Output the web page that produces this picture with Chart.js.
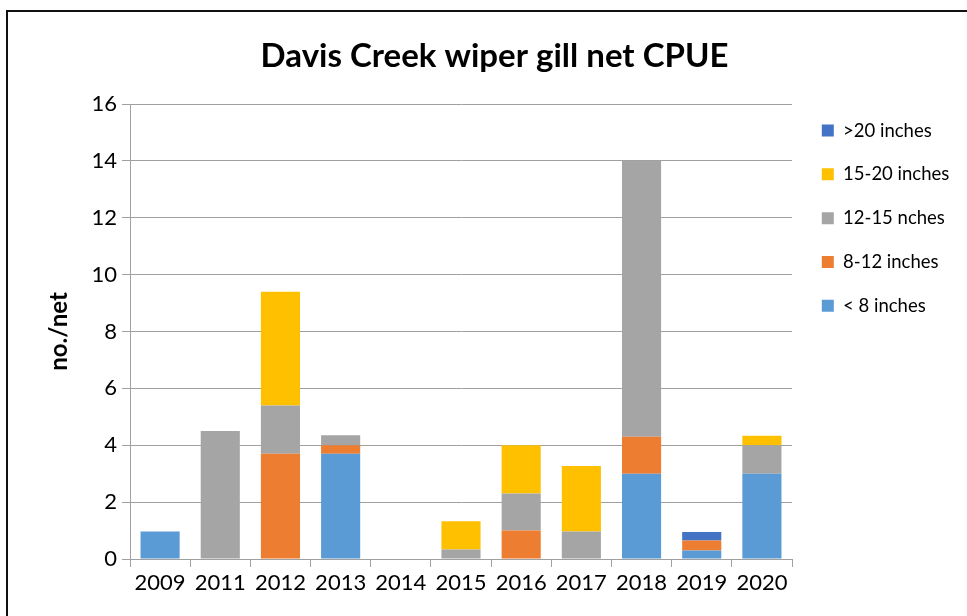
<!DOCTYPE html>
<html>
<head>
<meta charset="utf-8">
<title>Davis Creek wiper gill net CPUE</title>
<script src="https://cdn.jsdelivr.net/npm/chart.js@4/dist/chart.umd.min.js"></script>
<style>
  html, body { margin: 0; padding: 0; background: #fff; overflow: hidden; }
  #frame {
    position: absolute; left: 6px; top: 10px;
    width: 1000px; height: 700px;
    border: 2px solid #111;
  }
  #wrap { position: absolute; left: 0; top: 0; width: 967px; height: 616px; }
</style>
</head>
<body>
<div id="frame"></div>
<div id="wrap"><canvas id="cpueChart" width="967" height="616"></canvas></div>
<script>
// Survey years
const years = ['2009', '2011', '2012', '2013', '2014', '2015', '2016', '2017', '2018', '2019', '2020'];

// Catch per net by length group (stacked from the bottom up)
const under8 = [0.97, 0, 0, 3.7, 0, 0, 0, 0, 3.0, 0.3, 3.0];
const from8to12 = [0, 0, 3.7, 0.3, 0, 0, 1.0, 0, 1.3, 0.35, 0];
const from12to15 = [0, 4.5, 1.7, 0.35, 0, 0.33, 1.3, 0.97, 9.7, 0, 1.0];
const from15to20 = [0, 0, 4.0, 0, 0, 1.0, 1.7, 2.3, 0, 0, 0.33];
const over20 = [0, 0, 0, 0, 0, 0, 0, 0, 0, 0.3, 0];

const gridGray = '#a0a0a0';

// Keep the legend column where it belongs next to the plot
const legendPlacer = {
    id: 'legendPlacer',
    beforeInit(chart) {
        const fit = chart.legend.fit;
        chart.legend.fit = function () {
            fit.call(this);
            this.width = 175;
        };
    },
    afterLayout(chart) {
        chart.legend.left = 796.5;
        chart.legend.top = 96;
    }
};

function makeSet(label, data, color) {
    return {
        label: label,
        data: data,
        backgroundColor: color,
        borderWidth: 0,
        barPercentage: 1,
        categoryPercentage: 0.65
    };
}

const ctx = document.getElementById('cpueChart').getContext('2d');
new Chart(ctx, {
    type: 'bar',
    data: {
        labels: years,
        datasets: [
            makeSet('< 8 inches', under8, '#5b9bd5'),
            makeSet('8-12 inches', from8to12, '#ed7d31'),
            makeSet('12-15 nches', from12to15, '#a5a5a5'),
            makeSet('15-20 inches', from15to20, '#ffc000'),
            makeSet('>20 inches', over20, '#4472c4')
        ]
    },
    options: {
        responsive: false,
        animation: false,
        layout: { padding: { left: 22, right: 0, top: 0, bottom: 0 } },
        font: { family: 'Lato, "Open Sans", sans-serif' },
        plugins: {
            title: {
                display: true,
                text: 'Davis Creek wiper gill net CPUE',
                color: '#000',
                font: { family: 'Lato', size: 33, weight: 'bold', lineHeight: 1.2 },
                padding: { top: 37, bottom: 27.4 }
            },
            legend: {
                position: 'right',
                align: 'start',
                reverse: true,
                labels: {
                    boxWidth: 12,
                    boxHeight: 12,
                    padding: 25.3,
                    color: '#000',
                    font: { family: 'Lato', size: 18.5 }
                }
            },
            tooltip: { enabled: false }
        },
        scales: {
            x: {
                stacked: true,
                grid: {
                    display: true,
                    drawOnChartArea: false,
                    drawTicks: true,
                    tickLength: 8,
                    color: gridGray,
                    offset: true
                },
                border: { display: true, color: gridGray, width: 1 },
                ticks: {
                    color: '#000',
                    padding: 3,
                    maxRotation: 0,
                    font: { family: 'Lato', size: 22 }
                },
                afterFit: (scale) => { scale.height = 57; }
            },
            y: {
                stacked: true,
                min: 0,
                max: 16,
                grid: {
                    color: gridGray,
                    lineWidth: 1,
                    tickLength: 8
                },
                border: { display: true, color: gridGray, width: 1 },
                ticks: {
                    stepSize: 2,
                    color: '#000',
                    padding: 5,
                    font: { family: 'Lato', size: 22 }
                },
                title: {
                    display: true,
                    text: 'no./net',
                    color: '#000',
                    font: { family: 'Lato', size: 24, weight: 'bold', lineHeight: 1.2 },
                    padding: { top: 23, bottom: 0 }
                },
                afterFit: (scale) => { scale.width = 108; }
            }
        }
    },
    plugins: [legendPlacer]
});
</script>
</body>
</html>
